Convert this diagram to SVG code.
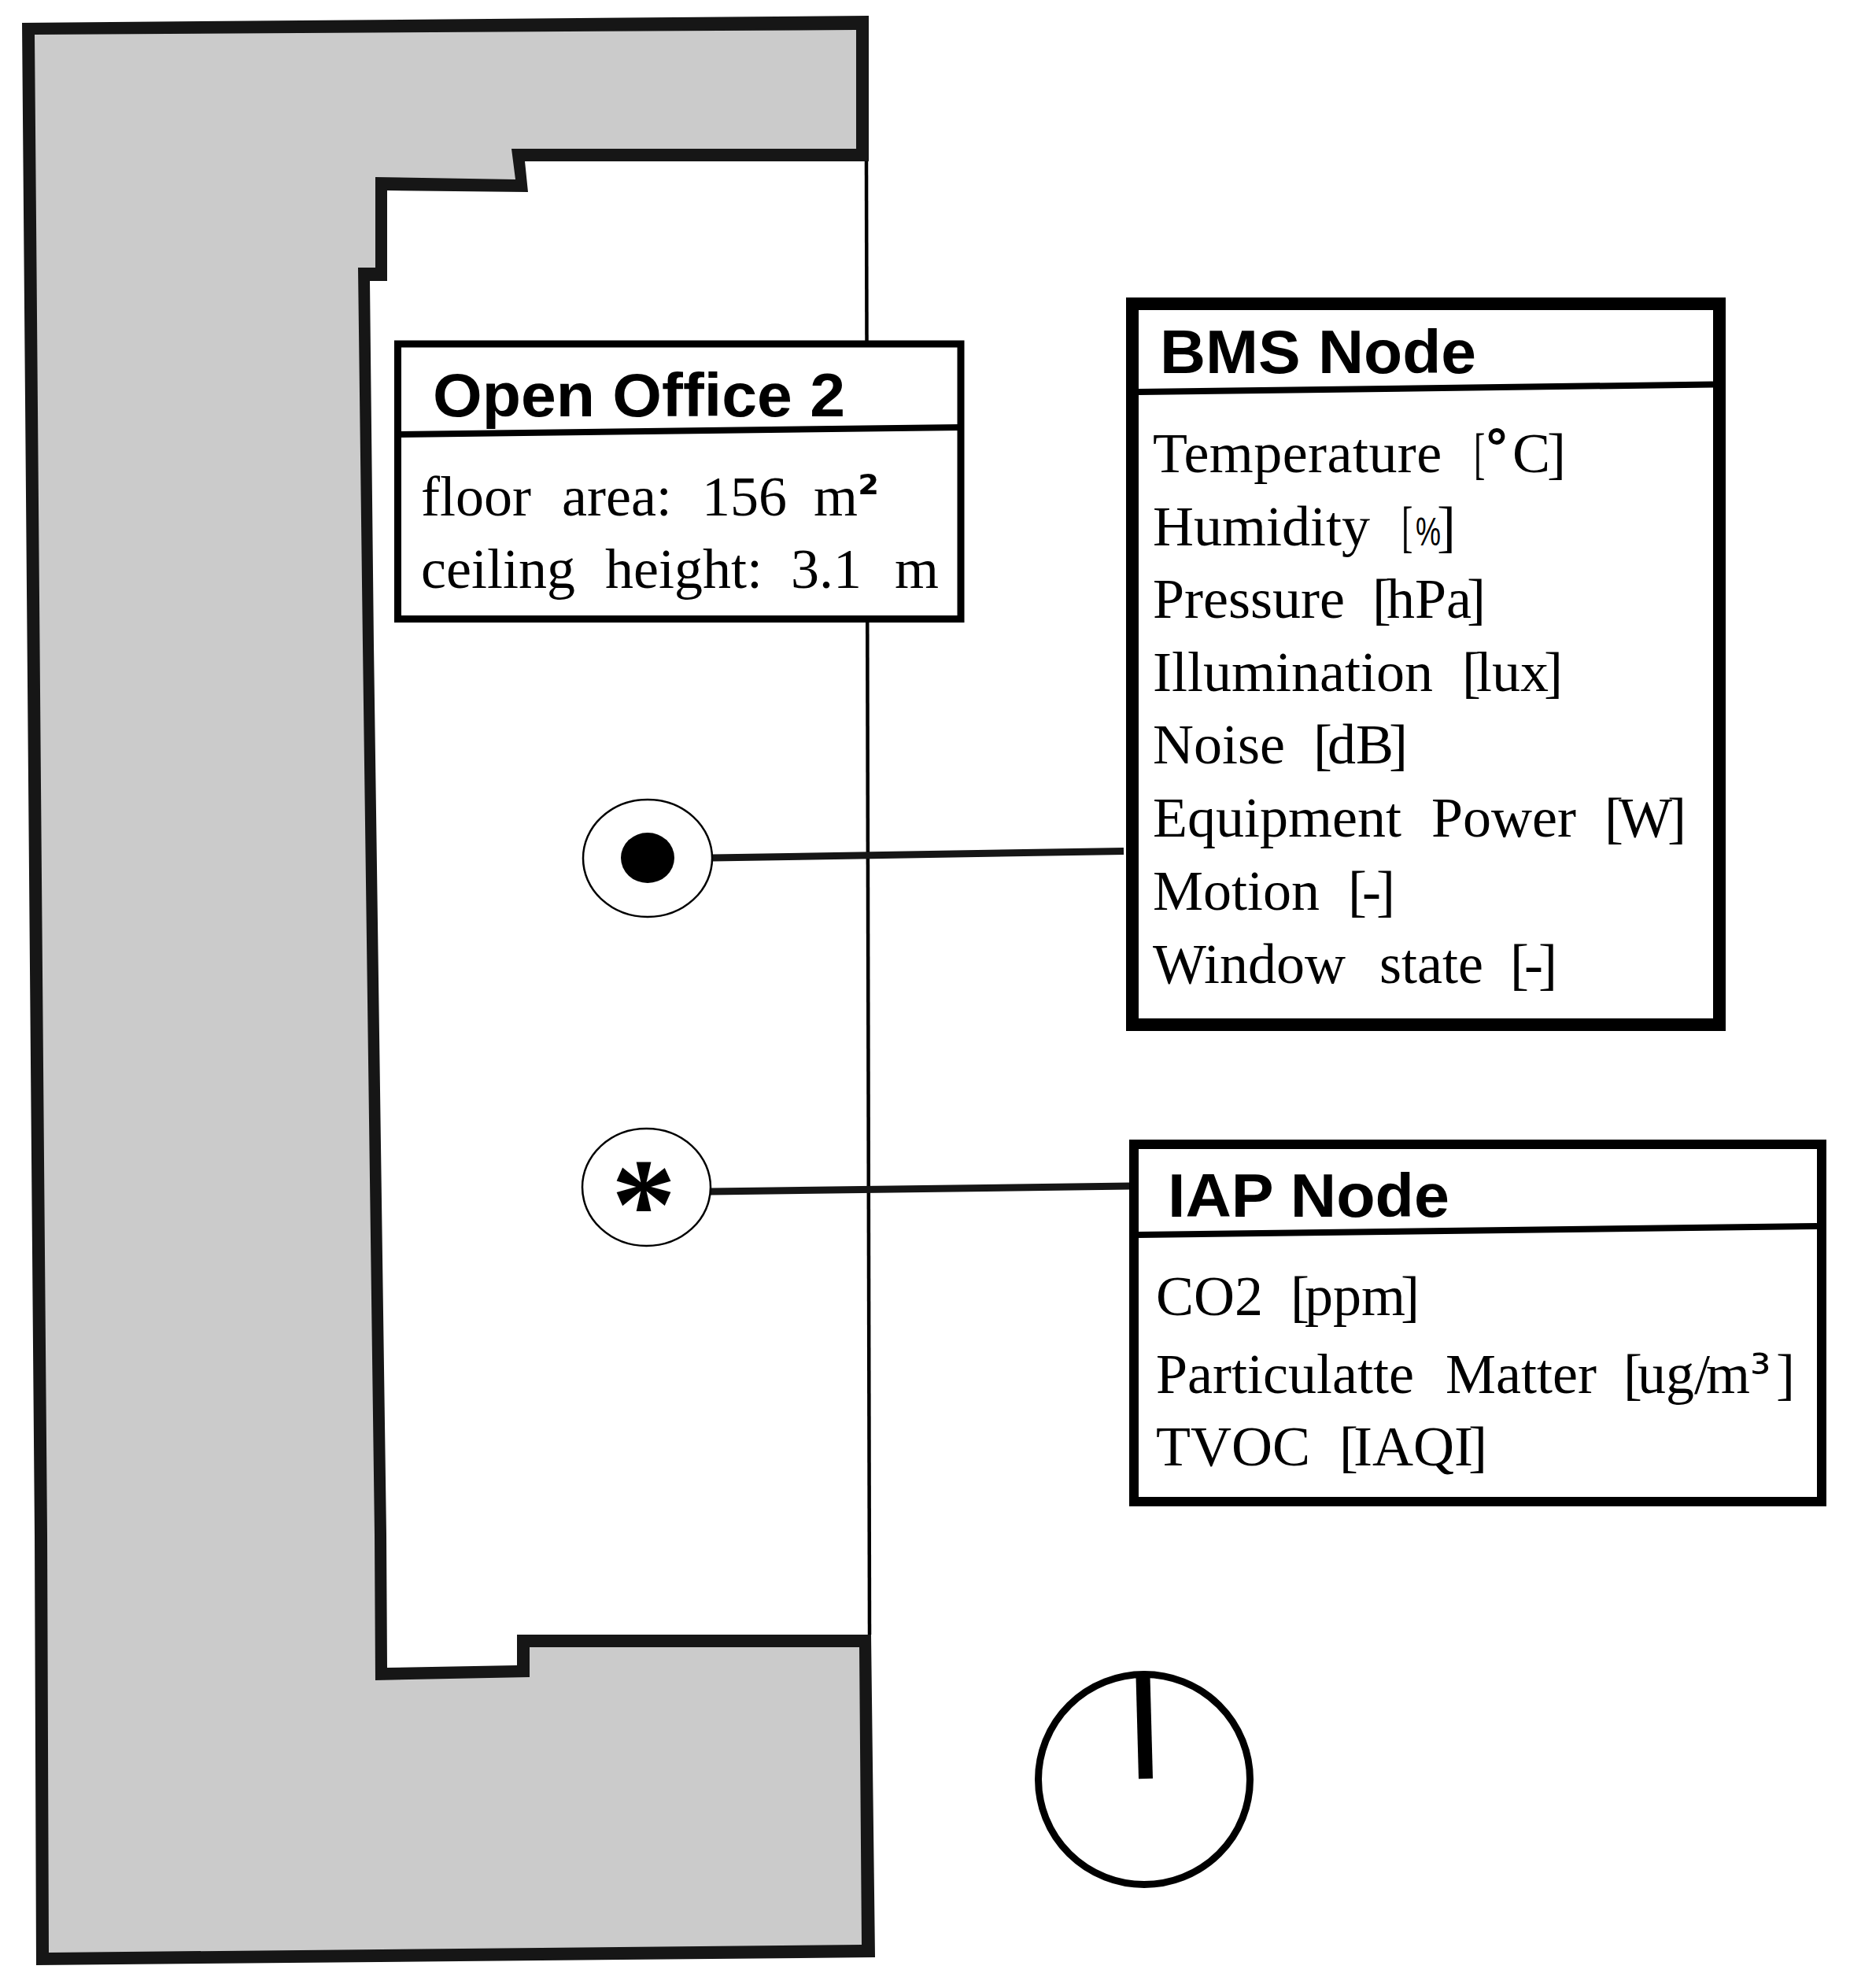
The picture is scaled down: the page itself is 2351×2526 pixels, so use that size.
<svg xmlns="http://www.w3.org/2000/svg" width="2351" height="2526" viewBox="0 0 2351 2526">
<style>
.box{fill:#fff;stroke:#000}
.div{stroke:#000;stroke-width:8;fill:none}
.title{font-family:"Liberation Sans",Arial,sans-serif;font-weight:700;font-size:78px;fill:#000}
.t{font-family:"Liberation Serif","Times New Roman",serif;font-size:72px;fill:#000}
.s{font-family:"DejaVu Sans",sans-serif}
.wire{stroke:#161616;stroke-width:9;fill:none}
.sensor{fill:#fff;stroke:#000;stroke-width:2.5}
</style>
<rect width="2351" height="2526" fill="#fff"/>
<g id="floorplan">
<polygon fill="#161616" points="28,29 1104,20 1104,205 667,205 671,244 492,242 492,357 470,357 475,820 491,1950 492,2119 657,2116 657,2077 1107,2077 1112,2487 46,2497 44,1950"/>
<polygon fill="#cbcbcb" points="44,44 1088,38 1088,189 650,189 655,228 477,225 477,340 455,340 461,820 476,1950 477,2135 673,2131 673,2093 1092,2093 1095,2471 62,2481 60,1950"/>
<line x1="1101" y1="205" x2="1105" y2="2077" stroke="#000" stroke-width="4.5"/>
</g>
<g id="connectors">
<line class="wire" x1="905" y1="1090" x2="1428" y2="1081.5"/>
<line class="wire" x1="903" y1="1514" x2="1436" y2="1507"/>
</g>
<g id="open-office">
<rect class="box" x="505.5" y="437" width="715.5" height="349.5" stroke-width="9"/>
<line class="div" x1="506" y1="552" x2="1222" y2="543"/>
<text class="title" x="550" y="529" textLength="524" lengthAdjust="spacingAndGlyphs">Open Office 2</text>
<text class="t" y="655"><tspan x="535">floor</tspan><tspan x="714">area:</tspan><tspan x="892">156</tspan><tspan x="1034">m</tspan><tspan class="s" font-size="62" font-weight="700" dy="-7">²</tspan></text>
<text class="t" y="747"><tspan x="535">ceiling</tspan><tspan x="769">height:</tspan><tspan x="1005">3.1</tspan><tspan x="1137">m</tspan></text>
</g>
<g id="bms-sensor">
<ellipse class="sensor" cx="823" cy="1090.5" rx="82" ry="74.5"/>
<ellipse cx="823" cy="1090" rx="34" ry="32" fill="#000"/>
</g>
<g id="iap-sensor">
<ellipse class="sensor" cx="821.5" cy="1508.5" rx="81.5" ry="74.5"/>
<text x="818" y="1586" text-anchor="middle" font-family="Liberation Serif,serif" font-weight="700" font-size="165" fill="#000">*</text>
</g>
<g id="bms-node">
<rect class="box" x="1439" y="386" width="746" height="916" stroke-width="16"/>
<line class="div" x1="1447" y1="498" x2="2177" y2="488.5"/>
<text class="title" x="1474" y="474" textLength="402" lengthAdjust="spacingAndGlyphs">BMS Node</text>
<text class="t" y="600"><tspan x="1465" letter-spacing=".45">Temperature</tspan></text>
<text class="t" transform="translate(1873,600) scale(.6,1)">[</text>
<text class="t" y="600"><tspan class="s" font-size="64" font-weight="700" dy="-8" x="1886">°</tspan><tspan x="1922" dy="8">C</tspan><tspan x="1966">]</tspan></text>
<text class="t" y="693"><tspan x="1465">Humidity</tspan></text>
<text class="t" transform="translate(1781,693) scale(.6,1)">[</text>
<text transform="translate(1799,693) scale(.72,1)" font-family="Liberation Sans,sans-serif" font-size="50" fill="#000">%</text>
<text class="t" x="1826" y="693">]</text>
<text class="t" y="785"><tspan x="1465">Pressure</tspan><tspan x="1744" dx="0 -6 0 0 -6">[hPa]</tspan></text>
<text class="t" y="878"><tspan x="1465">Illumination</tspan><tspan x="1858" dx="0 -6 0 0 -6">[lux]</tspan></text>
<text class="t" y="970"><tspan x="1465">Noise</tspan><tspan x="1669" dx="0 -6 0 -6">[dB]</tspan></text>
<text class="t" y="1063"><tspan x="1465">Equipment</tspan><tspan x="1819">Power</tspan><tspan x="2039" dx="0 -6 -6">[W]</tspan></text>
<text class="t" y="1156"><tspan x="1465">Motion</tspan><tspan x="1713" dx="0 -6 -6">[-]</tspan></text>
<text class="t" y="1249"><tspan x="1465">Window</tspan><tspan x="1753">state</tspan><tspan x="1919" dx="0 -6 -6">[-]</tspan></text>
</g>
<g id="iap-node">
<rect class="box" x="1441" y="1454" width="874" height="454" stroke-width="12"/>
<line class="div" x1="1447" y1="1569" x2="2309" y2="1558"/>
<text class="title" x="1484" y="1546" textLength="358" lengthAdjust="spacingAndGlyphs">IAP Node</text>
<text class="t" y="1671"><tspan x="1469">CO2</tspan><tspan x="1640" dx="0 -6 0 0 -6">[ppm]</tspan></text>
<text class="t" y="1770"><tspan x="1469">Particulatte</tspan><tspan x="1837">Matter</tspan><tspan x="2063" dx="0 -6 0 0 -5">[ug/m</tspan><tspan class="s" font-size="66" dy="-3">³</tspan><tspan x="2257" dy="3">]</tspan></text>
<text class="t" y="1862"><tspan x="1469">TVOC</tspan><tspan x="1702" dx="0 -6 0 0 0 -6">[IAQI]</tspan></text>
</g>
<g id="compass">
<ellipse cx="1454" cy="2261" rx="134.5" ry="133.5" fill="#fff" stroke="#000" stroke-width="9"/>
<line x1="1452.5" y1="2130" x2="1456" y2="2260" stroke="#000" stroke-width="18"/>
</g>
</svg>
